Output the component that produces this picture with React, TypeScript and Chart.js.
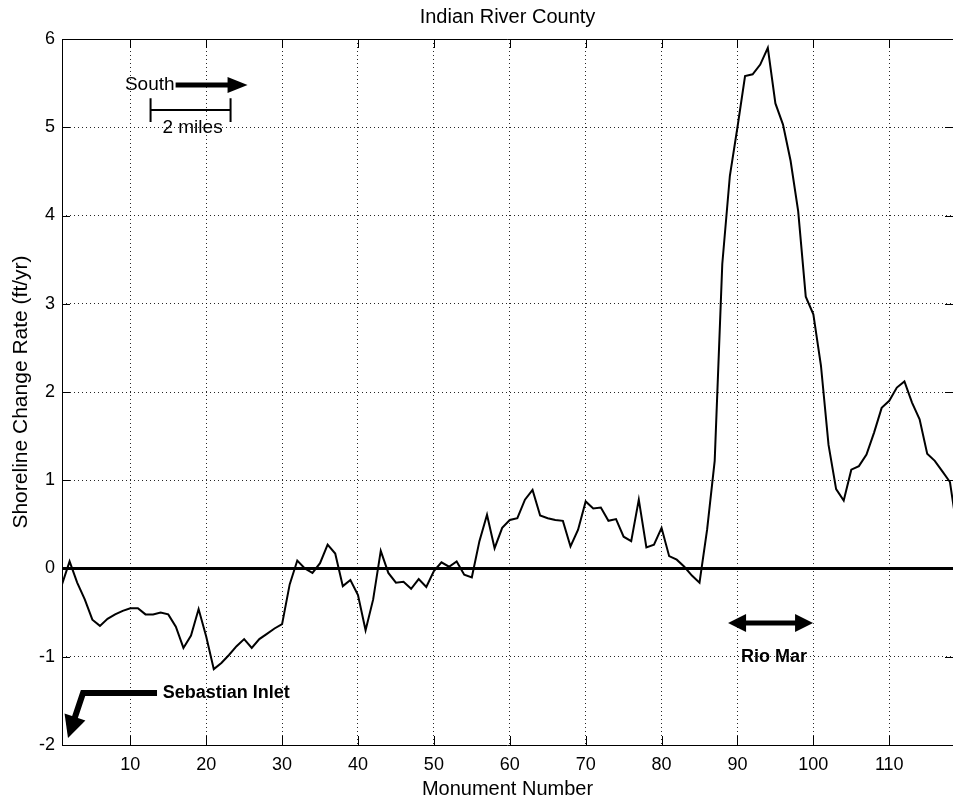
import React, { useEffect, useRef } from "react";
import { Chart, registerables } from "chart.js";

Chart.register(...registerables);

const TITLE = "Indian River County";
const X_LABEL = "Monument Number";
const Y_LABEL = "Shoreline Change Rate (ft/yr)";

// Shoreline change rate (ft/yr) for monuments 1..119
const changeRate = [
  -0.18, 0.08, -0.16, -0.35, -0.58, -0.65, -0.57, -0.52, -0.48, -0.45,
  -0.45, -0.52, -0.52, -0.5, -0.52, -0.66, -0.9, -0.76, -0.46, -0.77,
  -1.14, -1.07, -0.98, -0.88, -0.8, -0.9, -0.8, -0.74, -0.68, -0.63,
  -0.18, 0.09, 0.0, -0.05, 0.06, 0.27, 0.17, -0.2, -0.13, -0.3,
  -0.7, -0.35, 0.2, -0.05, -0.16, -0.15, -0.23, -0.12, -0.21, -0.03,
  0.07, 0.02, 0.08, -0.07, -0.1, 0.31, 0.61, 0.23, 0.46, 0.55,
  0.57, 0.78, 0.89, 0.6, 0.57, 0.55, 0.54, 0.25, 0.44, 0.76,
  0.68, 0.69, 0.54, 0.56, 0.36, 0.31, 0.78, 0.24, 0.27, 0.46,
  0.14, 0.1, 0.02, -0.08, -0.16, 0.44, 1.22, 3.45, 4.45, 5.0,
  5.58, 5.6, 5.71, 5.9, 5.27, 5.03, 4.62, 4.05, 3.08, 2.88,
  2.3, 1.4, 0.9, 0.77, 1.12, 1.16, 1.29, 1.54, 1.82, 1.9,
  2.05, 2.12, 1.88, 1.69, 1.3, 1.22, 1.1, 0.98, 0.4,
];
const firstMonument = 1;
const monuments = changeRate.map((_, i) => firstMonument + i);

const xTicks = [10, 20, 30, 40, 50, 60, 70, 80, 90, 100, 110];
const yTicks = [-2, -1, 0, 1, 2, 3, 4, 5, 6];
const xMin = 1;
const xMax = 118.4;
const yMin = -2;
const yMax = 6;
const zeroLineX = [1, 119];
const zeroLineY = [0, 0];

const FONT = '"Liberation Sans", Arial, Helvetica, sans-serif';

function arrowHead(ctx: CanvasRenderingContext2D, fx: number, fy: number, tx: number, ty: number, len: number, halfW: number) {
  const dx = tx - fx, dy = ty - fy;
  const d = Math.hypot(dx, dy);
  const ux = dx / d, uy = dy / d;
  const bx = tx - ux * len, by = ty - uy * len;
  ctx.beginPath();
  ctx.moveTo(tx, ty);
  ctx.lineTo(bx - uy * halfW, by + ux * halfW);
  ctx.lineTo(bx + uy * halfW, by - ux * halfW);
  ctx.closePath();
  ctx.fill();
  return [bx + ux * 2, by + uy * 2];
}

const annotationsPlugin = {
  id: "annotations",
  afterDraw(chart: any) {
    const { ctx, chartArea: a } = chart;
    const xs = chart.scales.x, ys = chart.scales.y;
    const px = (v: number) => xs.getPixelForValue(v);
    const py = (v: number) => ys.getPixelForValue(v);
    ctx.save();
    // axes box
    ctx.strokeStyle = "#000";
    ctx.lineWidth = 1;
    ctx.beginPath();
    ctx.moveTo(a.left + 0.5, a.bottom + 0.5);
    ctx.lineTo(a.left + 0.5, a.top + 0.5);
    ctx.lineTo(a.right, a.top + 0.5);
    ctx.moveTo(a.left, a.bottom + 0.5);
    ctx.lineTo(a.right, a.bottom + 0.5);
    ctx.stroke();
    // inward ticks
    ctx.beginPath();
    for (const t of xTicks) {
      const x = Math.round(px(t)) + 0.5;
      ctx.moveTo(x, a.bottom);
      ctx.lineTo(x, a.bottom - 9);
      ctx.moveTo(x, a.top);
      ctx.lineTo(x, a.top + 9);
    }
    for (const t of yTicks) {
      const y = Math.round(py(t)) + 0.5;
      ctx.moveTo(a.left, y);
      ctx.lineTo(a.left + 8, y);
      ctx.moveTo(a.right, y);
      ctx.lineTo(a.right - 8, y);
    }
    ctx.stroke();

    // titles
    ctx.fillStyle = "#000";
    ctx.textAlign = "center";
    ctx.textBaseline = "middle";
    ctx.font = `20px ${FONT}`;
    ctx.fillText(TITLE, (a.left + a.right) / 2, 17);
    ctx.fillText(X_LABEL, (a.left + a.right) / 2, 789);
    ctx.save();
    ctx.translate(21, (a.top + a.bottom) / 2);
    ctx.rotate(-Math.PI / 2);
    ctx.font = `21px ${FONT}`;
    ctx.fillText(Y_LABEL, 0, 0);
    ctx.restore();

    // South arrow
    ctx.font = `19px ${FONT}`;
    ctx.textAlign = "right";
    ctx.fillText("South", px(15.83), py(5.48));
    ctx.strokeStyle = "#000";
    ctx.lineCap = "butt";
    {
      const x1 = px(15.97), y1 = py(5.48), x2 = px(25.45);
      const [bx] = arrowHead(ctx, x1, y1, x2, y1, 20, 8);
      ctx.lineWidth = 5;
      ctx.beginPath();
      ctx.moveTo(x1, y1);
      ctx.lineTo(bx, y1);
      ctx.stroke();
    }
    // 2 miles scale bar
    {
      const x1 = px(12.67), x2 = px(23.21), y = py(5.195);
      ctx.lineWidth = 2;
      ctx.beginPath();
      ctx.moveTo(x1, y);
      ctx.lineTo(x2, y);
      ctx.moveTo(x1, py(5.33));
      ctx.lineTo(x1, py(5.06));
      ctx.moveTo(x2, py(5.33));
      ctx.lineTo(x2, py(5.06));
      ctx.stroke();
      ctx.textAlign = "center";
      ctx.fillText("2 miles", px(18.2), py(4.99));
    }
    // Sebastian Inlet
    {
      const p1x = px(13.52), p1y = py(-1.41);
      const p2x = px(3.77), p2y = py(-1.41);
      const tx = px(1.79), ty = py(-1.92);
      const [bx, by] = arrowHead(ctx, p2x, p2y, tx, ty, 22, 11);
      ctx.lineWidth = 6;
      ctx.lineJoin = "miter";
      ctx.beginPath();
      ctx.moveTo(p1x, p1y);
      ctx.lineTo(p2x, p2y);
      ctx.lineTo(bx, by);
      ctx.stroke();
      ctx.font = `bold 18px ${FONT}`;
      ctx.textAlign = "left";
      ctx.fillText("Sebastian Inlet", px(14.28), py(-1.41));
    }
    // Rio Mar
    {
      const x1 = px(88.76), x2 = px(99.96), y = py(-0.618);
      const [b2] = arrowHead(ctx, x1, y, x2, y, 18, 9);
      const [b1] = arrowHead(ctx, x2, y, x1, y, 18, 9);
      ctx.lineWidth = 5;
      ctx.beginPath();
      ctx.moveTo(b1, y);
      ctx.lineTo(b2, y);
      ctx.stroke();
      ctx.font = `bold 18px ${FONT}`;
      ctx.textAlign = "center";
      ctx.fillText("Rio Mar", px(94.8), py(-1.0));
    }
    ctx.restore();
  },
};

export default function App() {
  const canvasRef = useRef<HTMLCanvasElement | null>(null);

  useEffect(() => {
    const canvas = canvasRef.current;
    if (!canvas) return;
    const chart = new Chart(canvas, {
      type: "line",
      data: {
        datasets: [
          {
            label: "Zero",
            data: zeroLineX.map((x, i) => ({ x, y: zeroLineY[i] })),
            borderColor: "#000",
            borderWidth: 3,
            pointRadius: 0,
            tension: 0,
          },
          {
            label: "Shoreline change rate",
            data: monuments.map((m, i) => ({ x: m, y: changeRate[i] })),
            borderColor: "#000",
            borderWidth: 2,
            pointRadius: 0,
            tension: 0,
          },
        ],
      },
      options: {
        animation: false,
        responsive: false,
        devicePixelRatio: 1,
        layout: { padding: { top: 39, left: 0, right: 0, bottom: 0 } },
        plugins: {
          legend: { display: false },
          title: { display: false },
          tooltip: { enabled: false },
        },
        scales: {
          x: {
            type: "linear",
            min: xMin,
            max: xMax,
            afterBuildTicks: (scale: any) => {
              scale.ticks = xTicks.map((v) => ({ value: v }));
            },
            afterFit: (scale: any) => {
              scale.height = 60;
            },
            grid: {
              color: "rgba(0,0,0,0.85)",
              lineWidth: 1,
              drawTicks: false,
            },
            border: { display: false, dash: [1, 3] },
            ticks: {
              autoSkip: false,
              maxRotation: 0,
              padding: 9,
              color: "#000",
              font: { family: FONT, size: 18 },
              callback: (v: any) => String(v),
            },
          },
          y: {
            type: "linear",
            min: yMin,
            max: yMax,
            afterBuildTicks: (scale: any) => {
              scale.ticks = yTicks.map((v) => ({ value: v }));
            },
            afterFit: (scale: any) => {
              scale.width = 62;
            },
            grid: {
              color: "rgba(0,0,0,0.85)",
              lineWidth: 1,
              drawTicks: false,
            },
            border: { display: false, dash: [1, 3] },
            ticks: {
              padding: 7,
              color: "#000",
              font: { family: FONT, size: 18 },
              callback: (v: any) => String(v),
            },
          },
        },
      },
      plugins: [annotationsPlugin],
    } as any);
    return () => chart.destroy();
  }, []);

  return (
    <div style={{ position: "fixed", left: 0, top: 0, width: 953, height: 805, background: "#fff" }}>
      <canvas ref={canvasRef} width={953} height={805} style={{ display: "block" }} />
    </div>
  );
}
